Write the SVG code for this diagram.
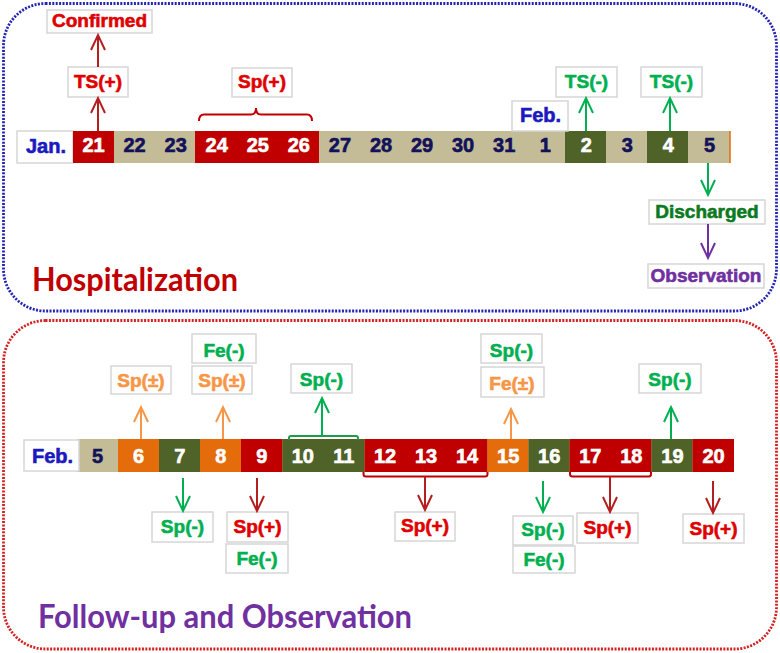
<svg xmlns="http://www.w3.org/2000/svg" width="780" height="653" viewBox="0 0 780 653">
<style>
.lbl{font-family:"Liberation Sans",Arial,sans-serif;font-weight:bold;font-size:19px;text-anchor:middle;stroke-width:0.6}
.num{font-family:"Liberation Sans",Arial,sans-serif;font-weight:bold;font-size:20px;text-anchor:middle;stroke-width:0.6}
.box{fill:#fff;stroke:#d6d6d6;stroke-width:1.5}
.red{fill:#e00000;stroke:#e00000}.grn{fill:#00b050;stroke:#00b050}.org{fill:#f79646;stroke:#f79646}.dgr{fill:#0b7a1e;stroke:#0b7a1e}.pur{fill:#7030a0;stroke:#7030a0}.blu{fill:#1a1ac0;stroke:#1a1ac0}
.w{fill:#fff;stroke:#fff}.n{fill:#12125a;stroke:#12125a}
.c-red{fill:#c00000}.c-bei{fill:#c4bc96}.c-grn{fill:#4f6228}.c-org{fill:#e46c0a}
.title{font-family:Lato,"Open Sans",sans-serif;font-weight:bold;font-size:32px}
.ar{fill:none;stroke-width:2}
.ar-red{stroke:#b41e1e;marker-end:url(#mRed)}
.ar-grn{stroke:#00b050;marker-end:url(#mGrn)}
.ar-org{stroke:#f79646;marker-end:url(#mOrg)}
.ar-pur{stroke:#7030a0;marker-end:url(#mPur)}
.br{fill:none;stroke-width:2}
</style>
<defs>
<marker id="mRed" markerUnits="userSpaceOnUse" viewBox="-16 -9 18 18" markerWidth="18" markerHeight="18" refX="0" refY="0" orient="auto" overflow="visible"><path d="M-15,-7 L0,0 L-15,7" fill="none" stroke="#b41e1e" stroke-width="2"/></marker>
<marker id="mGrn" markerUnits="userSpaceOnUse" viewBox="-16 -9 18 18" markerWidth="18" markerHeight="18" refX="0" refY="0" orient="auto" overflow="visible"><path d="M-15,-7 L0,0 L-15,7" fill="none" stroke="#00b050" stroke-width="2"/></marker>
<marker id="mOrg" markerUnits="userSpaceOnUse" viewBox="-16 -9 18 18" markerWidth="18" markerHeight="18" refX="0" refY="0" orient="auto" overflow="visible"><path d="M-15,-7 L0,0 L-15,7" fill="none" stroke="#f79646" stroke-width="2"/></marker>
<marker id="mPur" markerUnits="userSpaceOnUse" viewBox="-16 -9 18 18" markerWidth="18" markerHeight="18" refX="0" refY="0" orient="auto" overflow="visible"><path d="M-15,-7 L0,0 L-15,7" fill="none" stroke="#7030a0" stroke-width="2"/></marker>
</defs>
<rect width="780" height="653" fill="#fff"/>

<!-- Panels -->
<g id="panel-hospitalization">
<rect x="3.5" y="3.5" width="773" height="307.5" rx="42" ry="42" fill="none" stroke="#2323b4" stroke-width="2.8" stroke-dasharray="2 1.4"/>
<text class="title" x="32" y="291" fill="#c00000" textLength="206" lengthAdjust="spacingAndGlyphs">Hospitalization</text>
</g>
<g id="panel-followup">
<rect x="3.5" y="320.5" width="773" height="328.5" rx="42" ry="42" fill="none" stroke="#d42020" stroke-width="2.8" stroke-dasharray="2 1.4"/>
<text class="title" x="38" y="628" fill="#7030a0" textLength="374" lengthAdjust="spacingAndGlyphs">Follow-up and Observation</text>
</g>

<!-- Top timeline -->
<g id="timeline-jan">
<rect class="box" x="17" y="131" width="56" height="32"/>
<text class="num blu" x="46" y="153" font-size="21">Jan.</text>
<rect class="c-bei" x="73" y="131" width="657" height="32"/>
<rect class="c-red" x="73" y="131" width="41" height="32"/>
<rect class="c-red" x="195" y="131" width="124" height="32"/>
<rect class="c-grn" x="565" y="131" width="41" height="32"/>
<rect class="c-grn" x="647" y="131" width="41" height="32"/>
<line x1="730" y1="131" x2="730" y2="163" stroke="#e46c0a" stroke-width="1.5"/>
<text class="num w" x="93.5" y="152">21</text>
<text class="num n" x="134.6" y="152">22</text>
<text class="num n" x="175.7" y="152">23</text>
<text class="num w" x="216.7" y="152">24</text>
<text class="num w" x="257.8" y="152">25</text>
<text class="num w" x="298.8" y="152">26</text>
<text class="num n" x="339.9" y="152">27</text>
<text class="num n" x="381" y="152">28</text>
<text class="num n" x="422" y="152">29</text>
<text class="num n" x="463.1" y="152">30</text>
<text class="num n" x="504.2" y="152">31</text>
<text class="num n" x="545.2" y="152">1</text>
<text class="num w" x="586.3" y="152">2</text>
<text class="num n" x="627.3" y="152">3</text>
<text class="num w" x="668.4" y="152">4</text>
<text class="num n" x="709.5" y="152">5</text>
</g>
<g id="feb-top">
<rect class="box" x="512" y="101" width="56" height="30"/>
<text class="num blu" x="540.5" y="122">Feb.</text>
</g>

<g id="confirmed"><rect class="box" x="47" y="10" width="105" height="23"/><text class="lbl red" x="99.5" y="27">Confirmed</text></g>
<g id="ts-pos"><rect class="box" x="68" y="67" width="60" height="30"/><text class="lbl red" x="98" y="88">TS(+)</text></g>
<g id="sp-pos-top"><rect class="box" x="232" y="68" width="60" height="29"/><text class="lbl red" x="262" y="88">Sp(+)</text></g>
<g id="ts-neg-1"><rect class="box" x="556" y="67" width="61" height="30"/><text class="lbl grn" x="586.5" y="88">TS(-)</text></g>
<g id="ts-neg-2"><rect class="box" x="641" y="67" width="61" height="30"/><text class="lbl grn" x="671.5" y="88">TS(-)</text></g>
<g id="discharged"><rect class="box" x="649" y="200" width="116" height="24"/><text class="lbl dgr" x="707" y="218">Discharged</text></g>
<g id="observation"><rect class="box" x="648" y="264" width="116" height="24"/><text class="lbl pur" x="706" y="282">Observation</text></g>

<!-- Bottom timeline -->
<g id="timeline-feb">
<rect class="c-bei" x="77" y="439" width="657" height="33"/>
<rect class="c-org" x="118" y="439" width="41" height="33"/>
<rect class="c-grn" x="159" y="439" width="41" height="33"/>
<rect class="c-org" x="200" y="439" width="41" height="33"/>
<rect class="c-red" x="241" y="439" width="41.5" height="33"/>
<rect class="c-grn" x="282.5" y="439" width="82" height="33"/>
<rect class="c-red" x="364.5" y="439" width="123" height="33"/>
<rect class="c-org" x="487.5" y="439" width="41" height="33"/>
<rect class="c-grn" x="528.5" y="439" width="41" height="33"/>
<rect class="c-red" x="569.5" y="439" width="82" height="33"/>
<rect class="c-grn" x="651.5" y="439" width="41" height="33"/>
<rect class="c-red" x="692.5" y="439" width="41.5" height="33"/>
<rect class="box" x="24" y="440" width="55" height="31"/>
<text class="num blu" x="52.5" y="463">Feb.</text>
<text class="num n" x="97.5" y="463">5</text>
<text class="num w" x="138.6" y="463">6</text>
<text class="num w" x="179.7" y="463">7</text>
<text class="num w" x="220.7" y="463">8</text>
<text class="num w" x="261.8" y="463">9</text>
<text class="num w" x="302.8" y="463">10</text>
<text class="num w" x="343.9" y="463">11</text>
<text class="num w" x="385" y="463">12</text>
<text class="num w" x="426" y="463">13</text>
<text class="num w" x="467.1" y="463">14</text>
<text class="num w" x="508.2" y="463">15</text>
<text class="num w" x="549.2" y="463">16</text>
<text class="num w" x="590.3" y="463">17</text>
<text class="num w" x="631.3" y="463">18</text>
<text class="num w" x="672.4" y="463">19</text>
<text class="num w" x="713.5" y="463">20</text>
</g>

<g id="sp-pm-6"><rect class="box" x="111" y="366" width="60" height="28"/><text class="lbl org" x="141" y="387">Sp(±)</text></g>
<g id="fe-neg-8"><rect class="box" x="192" y="334" width="64" height="29"/><text class="lbl grn" x="224" y="357">Fe(-)</text></g>
<g id="sp-pm-8"><rect class="box" x="192" y="366" width="60" height="28"/><text class="lbl org" x="222" y="387">Sp(±)</text></g>
<g id="sp-neg-10"><rect class="box" x="291" y="364" width="61" height="29"/><text class="lbl grn" x="321.5" y="386">Sp(-)</text></g>
<g id="sp-neg-15"><rect class="box" x="481" y="334" width="61" height="29"/><text class="lbl grn" x="511.5" y="357">Sp(-)</text></g>
<g id="fe-pm-15"><rect class="box" x="481" y="367" width="63" height="30"/><text class="lbl org" x="512" y="390">Fe(±)</text></g>
<g id="sp-neg-19"><rect class="box" x="639" y="364" width="62" height="29"/><text class="lbl grn" x="670" y="386">Sp(-)</text></g>
<g id="sp-neg-7"><rect class="box" x="152" y="512" width="61" height="30"/><text class="lbl grn" x="182.5" y="533">Sp(-)</text></g>
<g id="sp-pos-9"><rect class="box" x="227" y="512" width="61" height="30"/><text class="lbl red" x="257.5" y="533">Sp(+)</text></g>
<g id="fe-neg-9"><rect class="box" x="226" y="544" width="62" height="29"/><text class="lbl grn" x="257" y="565">Fe(-)</text></g>
<g id="sp-pos-12"><rect class="box" x="395" y="512" width="60" height="29"/><text class="lbl red" x="425" y="532">Sp(+)</text></g>
<g id="sp-neg-16"><rect class="box" x="513" y="516" width="60" height="29"/><text class="lbl grn" x="543" y="536">Sp(-)</text></g>
<g id="fe-neg-16"><rect class="box" x="513" y="546" width="62" height="27"/><text class="lbl grn" x="544" y="566">Fe(-)</text></g>
<g id="sp-pos-17"><rect class="box" x="577" y="513" width="61" height="30"/><text class="lbl red" x="607.5" y="534">Sp(+)</text></g>
<g id="sp-pos-20"><rect class="box" x="683" y="514" width="61" height="29"/><text class="lbl red" x="713.5" y="535">Sp(+)</text></g>

<!-- Connectors -->
<g id="connectors">
<path class="ar ar-red" d="M98,131 V98"/>
<path class="ar ar-red" d="M98,67 V35"/>
<path class="br" stroke="#c00000" d="M199,121 Q199,114.5 204,114.5 H251 Q256,114.5 256,108 Q256,114.5 261,114.5 H307 Q312,114.5 312,121"/>
<path class="ar ar-grn" d="M586,131 V98"/>
<path class="ar ar-grn" d="M670,131 V98"/>
<path class="ar ar-grn" d="M708,163 V195"/>
<path class="ar ar-pur" d="M708,224 V258"/>

<path class="ar ar-org" d="M141,439 V407"/>
<path class="ar ar-org" d="M223,439 V407"/>
<path class="br" stroke="#1e9a4a" d="M289,440 V438 Q289,436 291,436 H356 Q358,436 358,438 V440"/>
<path class="ar ar-grn" d="M322,436 V398"/>
<path class="ar ar-org" d="M511,439 V409"/>
<path class="ar ar-grn" d="M671,439 V407"/>
<path class="ar ar-grn" d="M183,478 V511"/>
<path class="ar ar-red" d="M257,478 V511"/>
<path class="br" stroke="#c00000" d="M363.5,472 V474 Q363.5,476.5 366,476.5 H485 Q487.5,476.5 487.5,474 V472"/>
<path class="ar ar-red" d="M425,476.5 V510"/>
<path class="ar ar-grn" d="M543,481 V512"/>
<path class="br" stroke="#c00000" d="M570,472 V474 Q570,476.5 572.5,476.5 H648.5 Q651,476.5 651,474 V472"/>
<path class="ar ar-red" d="M610,476.5 V512"/>
<path class="ar ar-red" d="M713,481 V513"/>
</g>
</svg>
